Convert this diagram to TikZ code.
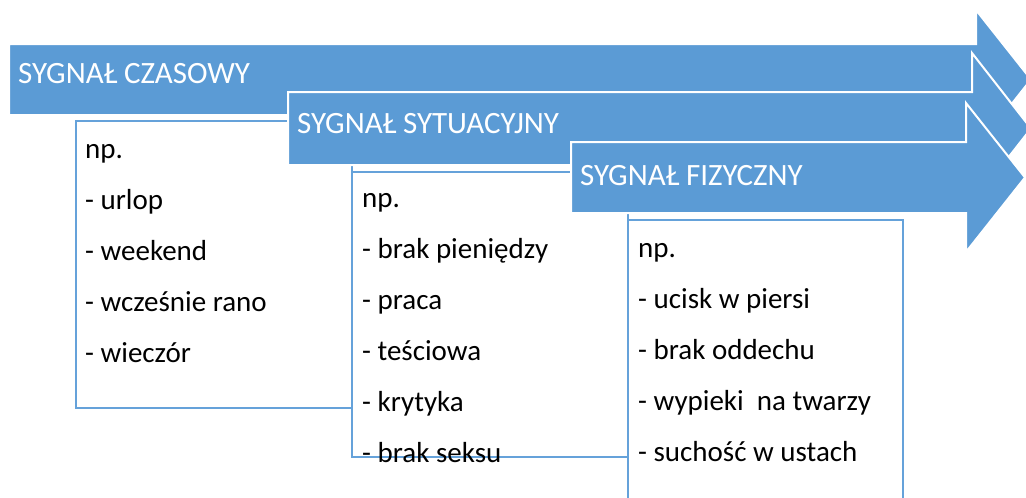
\documentclass[tikz,border=0pt]{standalone}
\usepackage{fontspec}
\setmainfont{Carlito}
\definecolor{arrowblue}{HTML}{5B9BD5}
\definecolor{boxline}{HTML}{65A2DA}
\tikzset{
  sigarrow/.style={fill=arrowblue, draw=white, line width=2pt, line join=miter},
  listbox/.style={draw=boxline, fill=white, line width=2.5pt, anchor=north west, inner sep=0pt, outer sep=0pt},
  arrowlabel/.style={anchor=base west, inner sep=0pt, text=white, font=\fontsize{31}{36}\selectfont},
  item/.style={anchor=base west, inner sep=0pt, text=black, font=\fontsize{29}{34}\selectfont}
}
\begin{document}
\begin{tikzpicture}[x=1pt,y=-1pt]
\useasboundingbox (0,0) rectangle (1026,498);
\clip (0,0) rectangle (1026,498);
\fill[white] (0,0) rectangle (1026,498);
% arrow 1
\filldraw[sigarrow] (9,44) -- (976,44) -- (976,10) -- (1031,79.5) -- (976,149) -- (976,115) -- (9,115) -- cycle;
\node[arrowlabel] (l1) at (18,83) {SYGNAŁ CZASOWY};
% box 1
\node[listbox, minimum width=276pt, minimum height=287pt] (b1) at (76,121) {};
\node[item] (b1a) at (85,158) {np.};
\node[item] (b1b) at (85,209) {- urlop};
\node[item] (b1c) at (85,260) {- weekend};
\node[item] (b1d) at (85,311) {- wcześnie rano};
\node[item] (b1e) at (85,362) {- wieczór};
% arrow 2
\filldraw[sigarrow] (288,92) -- (972,92) -- (972,53) -- (1031,128.5) -- (972,204) -- (972,165) -- (288,165) -- cycle;
\node[arrowlabel] (l2) at (297,133) {SYGNAŁ SYTUACYJNY};
% box 2
\node[listbox, minimum width=276pt, minimum height=285pt] (b2) at (352,172) {};
\node[item] (b2a) at (362,207) {np.};
\node[item] (b2b) at (362,258) {- brak pieniędzy};
\node[item] (b2c) at (362,309) {- praca};
\node[item] (b2d) at (362,360) {- teściowa};
\node[item] (b2e) at (362,411) {- krytyka};
\node[item] (b2f) at (362,462) {- brak seksu};
% arrow 3
\filldraw[sigarrow] (571,142) -- (966,142) -- (966,103) -- (1025,177.5) -- (966,252) -- (966,213) -- (571,213) -- cycle;
\node[arrowlabel] (l3) at (580,185) {SYGNAŁ FIZYCZNY};
% box 3
\node[listbox, minimum width=275pt, minimum height=300pt] (b3) at (628,220) {};
\node[item] (b3a) at (638,257) {np.};
\node[item] (b3b) at (638,308) {- ucisk w piersi};
\node[item] (b3c) at (638,359) {- brak oddechu};
\node[item] (b3d) at (638,410) {- wypieki\ \ na twarzy};
\node[item] (b3e) at (638,461) {- suchość w ustach};
\end{tikzpicture}
\end{document}
